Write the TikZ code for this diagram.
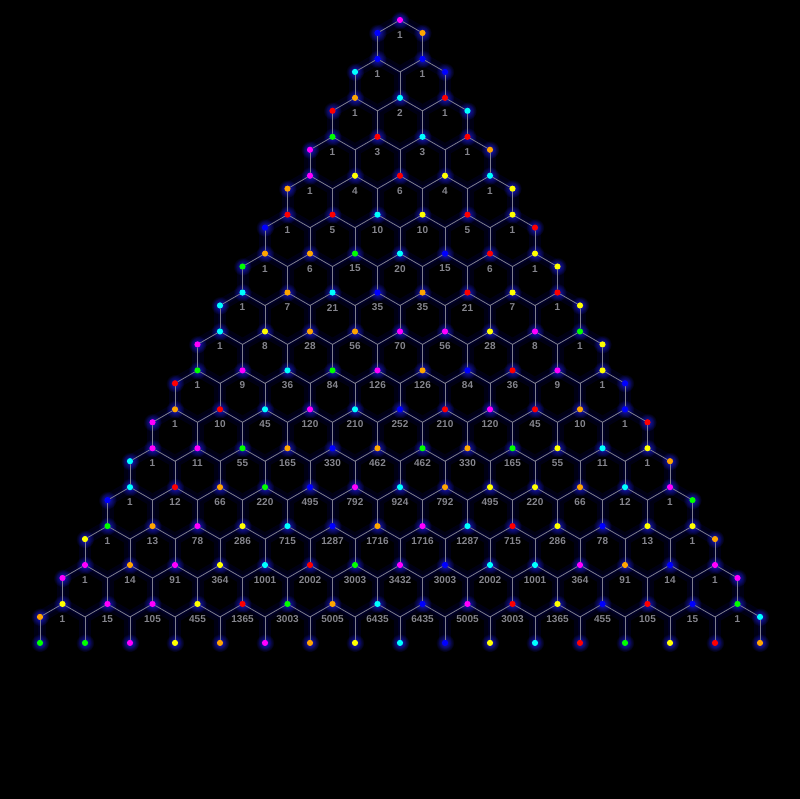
\documentclass[tikz,border=0pt]{standalone}
\usepackage{fontspec}
\setmainfont{Liberation Sans}
\usetikzlibrary{backgrounds, shadows, fadings}
\definecolor{dM}{HTML}{FF00FF}
\definecolor{dB}{HTML}{0000FF}
\definecolor{dO}{HTML}{FFA500}
\definecolor{dC}{HTML}{00FFFF}
\definecolor{dR}{HTML}{FF0000}
\definecolor{dG}{HTML}{00FF00}
\definecolor{dY}{HTML}{FFFF00}
\definecolor{edgegray}{HTML}{7E7E8E}
\definecolor{labelgray}{HTML}{85858D}
\definecolor{glowblue}{HTML}{2020FF}
\definecolor{glownavy}{HTML}{000026}
\definecolor{glowhaze}{HTML}{000014}
\tikzfading[name=soft glow, inner color=transparent!0, outer color=transparent!100]

\begin{document}
\begin{tikzpicture}[
    x=1pt, y=1pt,
    % Node styles
    corner dot/.style={
        circle,
        fill=#1,
        inner sep=0pt,
        minimum size=6.2pt,
        general shadow={shadow scale=3, shadow xshift=0pt, shadow yshift=0pt,
            fill=glowblue, path fading=soft glow, opacity=0.75}
    },
    cell label/.style={
        font=\bfseries\fontsize{10}{12}\selectfont,
        text=labelgray,
        inner sep=0pt
    },
    hex edge/.style={
        draw=edgegray,
        line width=0.8pt,
        line cap=round,
        line join=round
    },
    hex glow/.style={
        draw=#1,
        line cap=round
    }
]

% Hexagon spacing
\def\hexw{45}      % cell width
\def\hexh{38.93}   % row step (1.5 * side)
\def\hexs{25.95}   % side length

% Top corners of every cell (row 16 = open bottom ends)
\foreach \n/\row in {
    0/{M},
    1/{B,B},
    2/{O,C,R},
    3/{G,R,C,R},
    4/{M,Y,R,Y,C},
    5/{R,R,C,Y,R,Y},
    6/{O,O,G,C,B,R,Y},
    7/{C,O,C,B,O,R,Y,R},
    8/{C,Y,O,O,M,M,Y,M,G},
    9/{G,M,C,G,M,O,B,R,M,Y},
    10/{O,R,C,M,C,B,R,M,R,O,B},
    11/{M,M,G,O,B,O,G,O,G,Y,C,Y},
    12/{C,R,O,G,B,M,C,O,Y,Y,O,C,M},
    13/{G,O,M,Y,C,B,O,M,C,R,Y,B,Y,Y},
    14/{M,O,M,Y,C,R,G,M,B,C,C,M,O,B,M},
    15/{Y,M,M,Y,R,G,O,C,B,M,R,Y,B,R,B,G},
    16/{G,G,M,Y,O,M,O,Y,C,B,Y,C,R,G,Y,R,O}} {
    \foreach \c [count=\k from 0] in \row {
        \node[corner dot=d\c] (T-\n-\k) at ({400+(\k-\n/2)*\hexw}, {-20-\n*\hexh}) {};
    }
}

% Shoulder corners: dots on the outer edge, bare junctions inside
\foreach \n/\lc/\rc in {0/B/O, 1/C/B, 2/R/C, 3/M/O, 4/O/Y, 5/B/R, 6/G/Y, 7/C/Y,
                        8/M/Y, 9/R/B, 10/M/R, 11/C/O, 12/B/G, 13/Y/O, 14/M/M, 15/O/C} {
    \pgfmathtruncatemacro\last{\n+1}
    \node[corner dot=d\lc] (U-\n-0) at ({400-(\n+1)/2*\hexw}, {-20-\n*\hexh-\hexs/2}) {};
    \node[corner dot=d\rc] (U-\n-\last) at ({400+(\n+1)/2*\hexw}, {-20-\n*\hexh-\hexs/2}) {};
    \ifnum\n>0
        \foreach \j in {1,...,\n} {
            \coordinate (U-\n-\j) at ({400+(\j-(\n+1)/2)*\hexw}, {-20-\n*\hexh-\hexs/2});
        }
    \fi
}

% Background and glow (a wide haze, then a narrower halo)
\begin{scope}[on background layer]
    \fill[black] (0,0) rectangle (800,-799);
    \foreach \glow/\wd in {glowhaze/12pt, glownavy/5pt} {
        \foreach \n in {0,...,15} {
            \pgfmathtruncatemacro\last{\n+1}
            \foreach \k in {0,...,\n} {
                \pgfmathtruncatemacro\kk{\k+1}
                \draw[hex glow=\glow, line width=\wd] (U-\n-\k.center) -- (T-\n-\k.center) -- (U-\n-\kk.center);
            }
            \foreach \j in {0,...,\last} {
                \draw[hex glow=\glow, line width=\wd] (U-\n-\j.center) -- (T-\last-\j.center);
            }
        }
    }
\end{scope}

% Hexagon edges
\foreach \n in {0,...,15} {
    \pgfmathtruncatemacro\last{\n+1}
    \foreach \k in {0,...,\n} {
        \pgfmathtruncatemacro\kk{\k+1}
        \draw[hex edge] (U-\n-\k) -- (T-\n-\k) -- (U-\n-\kk);
    }
    \foreach \j in {0,...,\last} {
        \draw[hex edge] (U-\n-\j) -- (T-\last-\j);
    }
}

% Binomial coefficients
\foreach \n in {0,...,15} {
    \foreach \k [remember=\val as \prev (initially 1)] in {0,...,\n} {
        \ifnum\k=0\relax
            \xdef\val{1}
        \else
            \xdef\val{\the\numexpr\prev*(\n-\k+1)/\k\relax}
        \fi
        \node[cell label] (N-\n-\k) at ({400+(\k-\n/2)*\hexw}, {-35-\n*\hexh}) {\val};
    }
}

\end{tikzpicture}
\end{document}
